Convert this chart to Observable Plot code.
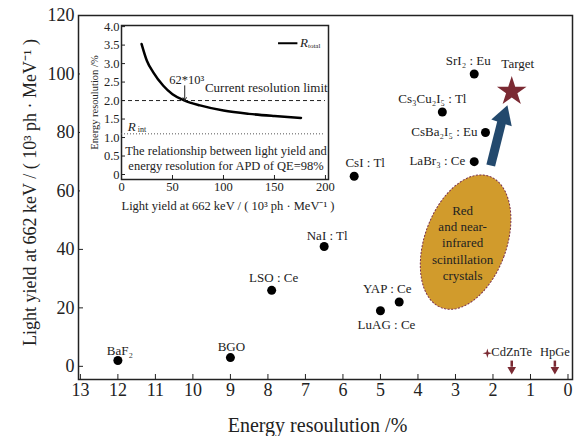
<!DOCTYPE html>
<html><head><meta charset="utf-8">
<script src="https://cdn.jsdelivr.net/npm/d3@7"></script>
<script src="https://cdn.jsdelivr.net/npm/@observablehq/plot@0.6"></script>
<style>
body{margin:0;background:#fff;}
#wrap{position:relative;width:581px;height:436px;}
#inset{position:absolute;left:80px;top:20px;}
</style></head><body><div id="wrap"><div id="main"></div><div id="inset"></div></div>
<script>
// ---- main chart data ----
const materials = ["BaF₂","BGO","LSO : Ce","NaI : Tl","CsI : Tl","YAP : Ce","LuAG : Ce","LaBr₃ : Ce","CsBa₂I₅ : Eu","Cs₃Cu₂I₅ : Tl","SrI₂ : Eu"];
const resolution = [12, 9, 7.9, 6.5, 5.7, 4.5, 5.0, 2.5, 2.2, 3.35, 2.5];
const lightYield = [2, 3, 26, 41, 65, 22, 19, 70, 80, 87, 100];
const targetRes = [1.5];
const targetYield = [94];
const detectorNames = ["CdZnTe", "HpGe"];
const detectorRes = [1.5, 0.35];
const detectorTop = [1.8, 1.8];
const detectorTip = [-2.3, -2.3];
const detectorLabelY = [4.8, 4.8];
const sparkleRes = [2.15];
const sparkleYield = [4.5];
const regionRes = [2.73];
const regionYield = [42.5];
const regionText = ["Red\nand near-\ninfrared\nscintillation\ncrystals"];
const arrowFrom = [2.06, 68.7];
const arrowTo = [1.76, 84.0];
const arrowHead = [1.72, 85.3];
const xTicks = [13,12,11,10,9,8,7,6,5,4,3,2,1,0];
const yTicks = [0,20,40,60,80,100,120];

// ---- inset data ----
const curveLY = [19.7, 25, 31, 41, 50, 62, 77, 100, 125, 150, 176];
const curveRes = [3.53, 3.07, 2.77, 2.4, 2.17, 2.0, 1.87, 1.73, 1.64, 1.58, 1.53];
const limitRes = 2.0;
const intrinsicRes = 1.1;
const insetXTicks = [0, 50, 100, 150, 200];
const insetYTicks = [0, 0.5, 1.0, 1.5, 2.0, 2.5, 3.0, 3.5, 4.0];

// ---- label placement (styling) ----
const place = {
  "BaF₂": {dx: 2, dy: -10, anchor: "middle"},
  "BGO": {dx: 1, dy: -11, anchor: "middle"},
  "LSO : Ce": {dx: 2, dy: -12, anchor: "middle"},
  "NaI : Tl": {dx: 3, dy: -11, anchor: "middle"},
  "CsI : Tl": {dx: 11, dy: -13, anchor: "middle"},
  "YAP : Ce": {dx: -12, dy: -13, anchor: "middle"},
  "LuAG : Ce": {dx: 6, dy: 14, anchor: "middle"},
  "LaBr₃ : Ce": {dx: -9, dy: -1, anchor: "end"},
  "CsBa₂I₅ : Eu": {dx: -8, dy: -1, anchor: "end"},
  "Cs₃Cu₂I₅ : Tl": {dx: -10, dy: -13, anchor: "middle"},
  "SrI₂ : Eu": {dx: -6, dy: -13, anchor: "middle"}
};

const points = materials.map((m, i) => ({name: m, x: resolution[i], y: lightYield[i]}));
const detectors = detectorNames.map((n, i) => ({name: n, x: detectorRes[i], y1: detectorTop[i], y2: detectorTip[i], ly: detectorLabelY[i]}));

const ellipseSymbol = {draw(ctx, size) {
  const r = Math.sqrt(size / Math.PI), rx = r * 0.585, ry = r;
  for (let i = 0; i <= 72; i++) { const t = i / 72 * 2 * Math.PI; const px = rx * Math.cos(t), py = ry * Math.sin(t); i ? ctx.lineTo(px, py) : ctx.moveTo(px, py); }
  ctx.closePath();
}};
const sparkle = {draw(ctx, size) {
  const r = Math.sqrt(size / Math.PI), w = r * 0.22;
  ctx.moveTo(0, -r); ctx.lineTo(w, -w); ctx.lineTo(r, 0); ctx.lineTo(w, w);
  ctx.lineTo(0, r); ctx.lineTo(-w, w); ctx.lineTo(-r, 0); ctx.lineTo(-w, -w); ctx.closePath();
}};

const serif = "'Liberation Serif','Times New Roman',serif";
const red = "#7b2a33", blue = "#23496d";

const textMarks = ["middle", "end"].flatMap(anchor =>
  points.filter(p => place[p.name].anchor === anchor).map(p =>
    Plot.text([p], {x: "x", y: "y", text: "name", textAnchor: anchor, dx: place[p.name].dx, dy: place[p.name].dy, fontSize: 13, fill: "#222"})));

const main = Plot.plot({
  width: 581, height: 436,
  marginTop: 15, marginRight: 9, marginBottom: 57, marginLeft: 78,
  style: {fontFamily: serif, fontSize: "18px", color: "#222", background: "#fff"},
  x: {domain: [13.05, -0.12]},
  y: {domain: [-4.5, 120]},
  marks: [
    Plot.axisX({ticks: xTicks, tickSize: -5, tickPadding: 9, label: null, tickFormat: d => String(d), stroke: "#222"}),
    Plot.axisY({ticks: yTicks, tickSize: -5, tickPadding: 9, label: null, tickFormat: d => String(d), stroke: "#222"}),
    Plot.frame({stroke: "#222", strokeWidth: 1.5}),
    Plot.text(["Energy resoulution /%"], {frameAnchor: "bottom", lineAnchor: "middle", textAnchor: "middle", dy: 46, dx: -8, text: d => d, fontSize: 20}),
    Plot.text(["Light yield at 662 keV / ( 10³ ph · MeV⁻¹ )"], {frameAnchor: "left", textAnchor: "middle", lineAnchor: "middle", dx: -48, dy: -5, rotate: -90, text: d => d, fontSize: 18}),
    Plot.dot(regionRes.map((x, i) => ({x, y: regionYield[i]})), {x: "x", y: "y", symbol: ellipseSymbol, r: 70, rotate: 20, fill: "#d19b2c", stroke: "#7a3050", strokeWidth: 1, strokeDasharray: "2,1.5"}),
    Plot.text(regionText, {x: () => regionRes[0], y: () => regionYield[0], text: d => d, fontSize: 13, lineHeight: 1.25, dx: -3, fill: "#222"}),
    Plot.dot(points, {x: "x", y: "y", r: 4.5, fill: "#000"}),
    ...textMarks,
    Plot.dot(targetRes.map((x, i) => ({x, y: targetYield[i]})), {x: "x", y: "y", symbol: "star", r: 9.3, fill: red}),
    Plot.text(["Target"], {x: () => targetRes[0], y: () => targetYield[0], text: d => d, dx: 6, dy: -28, fontSize: 13, fill: "#222"}),
    Plot.link([{x1: arrowFrom[0], y1: arrowFrom[1], x2: arrowTo[0], y2: arrowTo[1]}], {x1: "x1", y1: "y1", x2: "x2", y2: "y2", stroke: blue, strokeWidth: 9}),
    Plot.dot([{x: arrowHead[0], y: arrowHead[1]}], {x: "x", y: "y", symbol: "triangle", r: 8, rotate: 18.5, fill: blue}),
    Plot.ruleX(detectors, {x: "x", y1: "y1", y2: d => d.y2 + 2, stroke: red, strokeWidth: 2.5}),
    Plot.dot(detectors, {x: "x", y: d => d.y2 + 1.2, symbol: "triangle", r: 3.2, rotate: 180, fill: red}),
    Plot.text(detectors, {x: "x", y: "ly", text: "name", fontSize: 12.5, fill: "#222"}),
    Plot.dot(sparkleRes.map((x, i) => ({x, y: sparkleYield[i]})), {x: "x", y: "y", symbol: sparkle, r: 4.8, fill: red})
  ]
});
document.getElementById("main").append(main);

const curve = curveLY.map((x, i) => ({x, y: curveRes[i]}));
const inset = Plot.plot({
  width: 260, height: 200,
  marginTop: 5, marginRight: 12, marginBottom: 41, marginLeft: 41,
  style: {fontFamily: serif, fontSize: "12.5px", color: "#222", background: "#fff"},
  x: {domain: [0, 203]},
  y: {domain: [-0.135, 4.03]},
  marks: [
    Plot.axisX({ticks: insetXTicks, tickSize: -4, tickPadding: 7, label: null, tickFormat: d => String(d)}),
    Plot.axisY({ticks: insetYTicks, tickSize: -4, tickPadding: 6, label: null, tickFormat: d => d === 0 ? "0" : d.toFixed(1)}),
    Plot.frame({stroke: "#222", strokeWidth: 1.5}),
    Plot.text(["Light yield at 662 keV / ( 10³ ph · MeV⁻¹ )"], {frameAnchor: "bottom", lineAnchor: "middle", textAnchor: "middle", dy: 26, dx: 3, text: d => d, fontSize: 12.5}),
    Plot.text(["Energy resoulution /%"], {frameAnchor: "left", textAnchor: "middle", lineAnchor: "middle", dx: -27, rotate: -90, text: d => d, fontSize: 10.5}),
    Plot.ruleY([limitRes], {x1: 0, x2: 200, stroke: "#222", strokeDasharray: "4,3", strokeWidth: 1}),
    Plot.ruleY([intrinsicRes], {x1: 0, x2: 200, stroke: "#555", strokeDasharray: "1,2", strokeWidth: 1}),
    Plot.line(curve, {x: "x", y: "y", curve: "monotone-x", stroke: "#000", strokeWidth: 2.5}),
    Plot.text(["Current resolution limit"], {x: () => 142, y: () => limitRes, dy: -13, text: d => d, fontSize: 13}),
    Plot.text(["62*10³"], {x: () => 64, y: () => 2.55, text: d => d, fontSize: 12.5}),
    Plot.arrow([{x1: 62, y1: 2.4, x2: 62, y2: limitRes}], {x1: "x1", y1: "y1", x2: "x2", y2: "y2", stroke: "#222", strokeWidth: 1, headLength: 5}),
    Plot.text(["R"], {x: () => 10, y: () => intrinsicRes, dy: -7, text: d => d, fontSize: 13, fontStyle: "italic"}),
    Plot.text(["int"], {x: () => 10, y: () => intrinsicRes, dy: -4, dx: 6, textAnchor: "start", text: d => d, fontSize: 8}),
    Plot.ruleY([3.55], {x1: 154, x2: 173, stroke: "#000", strokeWidth: 2}),
    Plot.text(["R"], {x: () => 175, y: () => 3.55, textAnchor: "start", text: d => d, fontSize: 13, fontStyle: "italic"}),
    Plot.text(["total"], {x: () => 175, y: () => 3.55, dx: 8, dy: 3, textAnchor: "start", text: d => d, fontSize: 7}),
    Plot.text(["The relationship between light yield and\nenergy resolution for APD of QE=98%"], {x: () => 102.5, y: () => 0.45, text: d => d, fontSize: 12.5, lineHeight: 1.2})
  ]
});
document.getElementById("inset").append(inset);
</script></body></html>
